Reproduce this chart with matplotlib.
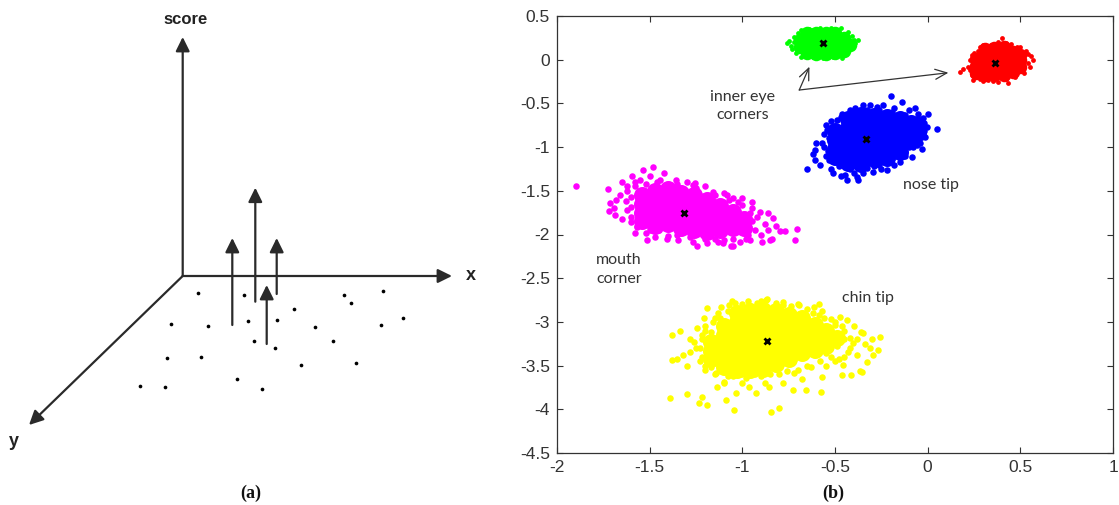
import numpy as np
import matplotlib
matplotlib.use("Agg")
import matplotlib.pyplot as plt

plt.rcParams['axes.unicode_minus'] = False

# ---------------- panel (a): schematic, in sketch units (y grows downward) ----------------
sketch_origin = (182.7, 276.0)
sketch_score_tip = (182.7, 37.0)
sketch_x_tip = (452.0, 276.0)
sketch_y_tip = (29.0, 425.0)

sketch_dot_x = [198.3, 244.3, 344.0, 351.0, 383.3, 293.7, 170.7, 208.0, 248.3, 277.3,
                315.3, 381.0, 403.3, 253.7, 332.7, 275.0, 166.7, 201.3, 301.0, 356.3,
                140.0, 164.7, 237.3, 262.0]
sketch_dot_y = [292.7, 295.3, 295.3, 302.7, 291.3, 309.0, 323.7, 326.3, 321.3, 320.3,
                327.3, 325.3, 318.0, 340.7, 340.7, 348.0, 358.3, 357.3, 365.3, 363.3,
                386.0, 387.0, 378.7, 389.0]

# score arrows: base on the plane and tip height
score_base_x = [232.3, 255.3, 276.7, 266.7]
score_base_y = [325.0, 301.7, 294.0, 344.0]
score_tip_y = [238.0, 187.7, 238.0, 285.0]

# ---------------- panel (b): landmark score clusters ----------------
center_x = [-0.563, 0.364, -0.334, -1.313, -0.868]
center_y = [0.195, -0.040, -0.905, -1.750, -3.215]

green_core = [(-0.69, 0.14), (-0.69, 0.22),
              (-0.65, 0.08), (-0.65, 0.16), (-0.65, 0.24), (-0.65, 0.30),
              (-0.60, 0.07), (-0.60, 0.15), (-0.60, 0.23), (-0.60, 0.30),
              (-0.55, 0.07), (-0.55, 0.15), (-0.55, 0.23), (-0.55, 0.30),
              (-0.50, 0.08), (-0.50, 0.16), (-0.50, 0.24), (-0.50, 0.30),
              (-0.45, 0.10), (-0.45, 0.18), (-0.45, 0.25), (-0.42, 0.17)]
green_pts = [(-0.761, 0.188), (-0.74, 0.16), (-0.75, 0.21), (-0.72, 0.26), (-0.70, 0.30),
             (-0.686, 0.34), (-0.64, 0.35), (-0.58, 0.36), (-0.52, 0.36), (-0.47, 0.36),
             (-0.43, 0.32), (-0.41, 0.27), (-0.40, 0.22), (-0.375, 0.225), (-0.39, 0.19),
             (-0.42, 0.12), (-0.44, 0.07), (-0.464, 0.016), (-0.51, 0.03), (-0.565, 0.016),
             (-0.62, 0.03), (-0.686, 0.034), (-0.71, 0.08), (-0.73, 0.12), (-0.72, 0.20),
             (-0.68, 0.31), (-0.62, 0.34), (-0.55, 0.35), (-0.49, 0.34), (-0.44, 0.29),
             (-0.41, 0.14), (-0.47, 0.05), (-0.54, 0.04), (-0.60, 0.05), (-0.67, 0.06)]

red_core = [(0.26, -0.15), (0.26, -0.07), (0.26, 0.01),
            (0.31, -0.18), (0.31, -0.10), (0.31, -0.02), (0.31, 0.06), (0.31, 0.12),
            (0.36, -0.18), (0.36, -0.10), (0.36, -0.02), (0.36, 0.06), (0.36, 0.13),
            (0.41, -0.17), (0.41, -0.09), (0.41, -0.01), (0.41, 0.07), (0.41, 0.14),
            (0.46, -0.14), (0.46, -0.06), (0.46, 0.02), (0.46, 0.09),
            (0.50, -0.08), (0.50, 0.00), (0.50, 0.05)]
red_pts = [(0.175, -0.137), (0.19, -0.11), (0.229, -0.003), (0.22, -0.08), (0.24, -0.17),
           (0.247, -0.232), (0.30, -0.24), (0.328, -0.232), (0.38, -0.25), (0.435, -0.263),
           (0.47, -0.20), (0.52, -0.15), (0.553, -0.08), (0.571, -0.003), (0.56, 0.04),
           (0.53, 0.10), (0.50, 0.15), (0.45, 0.18), (0.40, 0.244), (0.38, 0.20),
           (0.30, 0.168), (0.27, 0.10), (0.24, 0.05), (0.23, -0.12), (0.28, -0.22),
           (0.35, -0.24), (0.42, -0.22), (0.50, -0.13), (0.54, -0.04), (0.54, 0.06),
           (0.48, 0.14), (0.42, 0.19), (0.34, 0.17), (0.28, 0.14), (0.25, 0.08)]

blue_core = [(-0.50, -0.82), (-0.50, -0.92), (-0.50, -1.02), (-0.50, -1.11),
             (-0.43, -0.68), (-0.43, -0.78), (-0.43, -0.88), (-0.43, -0.98), (-0.43, -1.08), (-0.43, -1.18),
             (-0.36, -0.63), (-0.36, -0.73), (-0.36, -0.83), (-0.36, -0.93), (-0.36, -1.03), (-0.36, -1.13), (-0.36, -1.19),
             (-0.29, -0.64), (-0.29, -0.74), (-0.29, -0.84), (-0.29, -0.94), (-0.29, -1.04), (-0.29, -1.14),
             (-0.22, -0.66), (-0.22, -0.76), (-0.22, -0.86), (-0.22, -0.96), (-0.22, -1.06), (-0.22, -1.12),
             (-0.15, -0.68), (-0.15, -0.78), (-0.15, -0.88), (-0.15, -0.98), (-0.15, -1.06),
             (-0.09, -0.72), (-0.09, -0.82), (-0.09, -0.92),
             (-0.05, -0.76), (-0.05, -0.84)]
blue_pts = [(-0.652, -1.256), (0.049, -0.79), (-0.20, -0.41), (-0.347, -0.518), (-0.275, -0.537),
            (-0.14, -0.48), (-0.023, -0.67), (-0.005, -0.766), (-0.012, -0.881), (-0.059, -0.976),
            (-0.086, -1.11), (-0.149, -1.167), (-0.221, -1.262), (-0.293, -1.281), (-0.374, -1.376),
            (-0.437, -1.376), (-0.446, -1.319), (-0.509, -1.30), (-0.608, -1.148), (-0.608, -1.033),
            (-0.572, -0.957), (-0.545, -0.804), (-0.491, -0.69), (-0.419, -0.576), (-0.58, -1.20),
            (-0.55, -1.10), (-0.56, -1.00), (-0.52, -1.25), (-0.47, -1.33), (-0.40, -1.30),
            (-0.35, -1.30), (-0.25, -1.25), (-0.18, -1.20), (-0.12, -1.10), (-0.08, -1.00),
            (-0.04, -0.95), (-0.02, -0.72), (-0.05, -0.62), (-0.10, -0.58), (-0.18, -0.55),
            (-0.24, -0.52), (-0.31, -0.52), (-0.39, -0.55), (-0.46, -0.62), (-0.52, -0.70),
            (-0.56, -0.85), (-0.03, -1.02), (-0.55, -0.75), (-0.53, -0.90), (-0.54, -1.05),
            (-0.53, -1.15), (-0.48, -1.22), (-0.42, -1.25), (-0.33, -1.24), (-0.26, -1.20),
            (-0.20, -1.16), (-0.13, -1.08), (-0.10, -1.00), (-0.05, -0.92), (-0.02, -0.82),
            (-0.05, -0.68), (-0.12, -0.63), (-0.19, -0.60), (-0.26, -0.58), (-0.33, -0.57),
            (-0.40, -0.60), (-0.47, -0.66), (-0.60, -0.95), (-0.62, -1.08), (-0.38, -1.34),
            (-0.29, -1.22), (-0.07, -0.55), (0.00, -0.62)]

magenta_core = [(-1.54, -1.55), (-1.54, -1.65), (-1.54, -1.75), (-1.54, -1.85),
                (-1.47, -1.50), (-1.47, -1.60), (-1.47, -1.70), (-1.47, -1.80), (-1.47, -1.90),
                (-1.40, -1.48), (-1.40, -1.58), (-1.40, -1.68), (-1.40, -1.78), (-1.40, -1.88),
                (-1.33, -1.52), (-1.33, -1.62), (-1.33, -1.72), (-1.33, -1.82), (-1.33, -1.92),
                (-1.26, -1.55), (-1.26, -1.65), (-1.26, -1.75), (-1.26, -1.85), (-1.26, -1.95),
                (-1.19, -1.60), (-1.19, -1.70), (-1.19, -1.80), (-1.19, -1.90), (-1.19, -1.97),
                (-1.12, -1.67), (-1.12, -1.77), (-1.12, -1.87), (-1.12, -1.95),
                (-1.05, -1.74), (-1.05, -1.84), (-1.05, -1.92),
                (-0.99, -1.82), (-0.99, -1.92)]
magenta_pts = [(-1.897, -1.445), (-1.723, -1.483), (-1.714, -1.643), (-1.687, -1.777), (-1.579, -1.986),
               (-1.516, -2.063), (-1.471, -2.032), (-1.57, -1.91), (-1.48, -1.231), (-1.534, -1.262),
               (-1.597, -1.33), (-1.651, -1.396), (-1.444, -1.376), (-1.39, -1.434), (-1.264, -1.434),
               (-1.156, -1.51), (-1.049, -1.586), (-0.949, -1.625), (-0.904, -1.739), (-0.86, -1.757),
               (-0.833, -1.815), (-0.796, -1.956), (-0.769, -1.956), (-0.703, -1.937), (-0.715, -2.063),
               (-0.85, -2.063), (-0.895, -2.082), (-1.049, -2.132), (-1.103, -2.094), (-1.192, -2.094),
               (-1.264, -2.082), (-1.345, -2.063), (-1.408, -2.055), (-1.255, -1.414), (-1.084, -1.548),
               (-1.022, -1.625), (-0.838, -2.055), (-0.96, -2.063), (-1.014, -2.082), (-1.06, -2.132),
               (-1.246, -2.132), (-1.13, -2.082), (-1.66, -1.55), (-1.63, -1.62), (-1.69, -1.70),
               (-1.62, -1.72), (-1.65, -1.82), (-1.60, -1.86), (-1.62, -1.50), (-1.58, -1.45),
               (-1.55, -1.38), (-1.50, -1.33), (-1.42, -1.30), (-1.36, -1.38), (-1.30, -1.40),
               (-1.20, -1.45), (-1.10, -1.52), (-1.00, -1.58), (-0.95, -1.70), (-0.92, -1.80),
               (-0.88, -1.88), (-0.93, -1.95), (-0.86, -1.95), (-0.90, -2.00), (-0.82, -1.90),
               (-0.98, -2.05), (-1.05, -2.05), (-1.15, -2.05), (-1.35, -2.00), (-1.52, -1.98),
               (-1.45, -1.95), (-1.58, -1.40), (-1.52, -1.42), (-1.46, -1.40), (-1.35, -1.42),
               (-1.25, -1.47), (-1.15, -1.55), (-1.07, -1.60), (-1.00, -1.66), (-0.96, -1.75),
               (-0.95, -1.85), (-0.97, -2.00), (-1.10, -2.06), (-1.20, -2.05), (-1.28, -2.03),
               (-1.40, -2.02), (-1.50, -1.95), (-1.57, -1.90), (-1.60, -1.80), (-1.60, -1.68),
               (-1.60, -1.57), (-1.62, -1.45), (-1.68, -1.60), (-1.72, -1.73), (-1.05, -1.68)]

yellow_core = [(-1.17, -3.23), (-1.17, -3.33), (-1.17, -3.43),
               (-1.10, -3.05), (-1.10, -3.15), (-1.10, -3.25), (-1.10, -3.35), (-1.10, -3.45), (-1.10, -3.52),
               (-1.03, -2.90), (-1.03, -3.00), (-1.03, -3.10), (-1.03, -3.20), (-1.03, -3.30), (-1.03, -3.40), (-1.03, -3.50), (-1.03, -3.55),
               (-0.96, -2.87), (-0.96, -2.97), (-0.96, -3.07), (-0.96, -3.17), (-0.96, -3.27), (-0.96, -3.37), (-0.96, -3.47), (-0.96, -3.55),
               (-0.89, -2.86), (-0.89, -2.96), (-0.89, -3.06), (-0.89, -3.16), (-0.89, -3.26), (-0.89, -3.36), (-0.89, -3.46), (-0.89, -3.54),
               (-0.82, -2.88), (-0.82, -2.98), (-0.82, -3.08), (-0.82, -3.18), (-0.82, -3.28), (-0.82, -3.38), (-0.82, -3.48),
               (-0.75, -2.92), (-0.75, -3.02), (-0.75, -3.12), (-0.75, -3.22), (-0.75, -3.32), (-0.75, -3.42),
               (-0.68, -2.96), (-0.68, -3.06), (-0.68, -3.16), (-0.68, -3.26), (-0.68, -3.36),
               (-0.61, -3.04), (-0.61, -3.14), (-0.61, -3.24), (-0.61, -3.32),
               (-0.55, -3.10), (-0.55, -3.20), (-0.55, -3.28),
               (-0.49, -3.18)]
yellow_pts = [(-1.381, -3.15), (-1.336, -3.10), (-1.354, -3.428), (-1.318, -3.379), (-1.282, -3.341),
              (-1.39, -3.874), (-1.296, -3.825), (-1.215, -3.856), (-1.233, -3.931), (-1.188, -3.951),
              (-1.134, -3.741), (-1.098, -3.684), (-1.089, -3.894), (-1.044, -4.008), (-1.035, -3.817),
              (-0.963, -3.741), (-0.927, -3.817), (-0.855, -3.749), (-0.846, -4.027), (-0.801, -3.989),
              (-0.729, -3.779), (-0.658, -3.779), (-0.577, -3.798), (-0.568, -3.634), (-0.46, -3.608),
              (-0.415, -3.608), (-0.352, -3.57), (-0.257, -3.169), (-0.266, -3.322), (-0.293, -3.379),
              (-0.311, -3.302), (-0.347, -3.131), (-0.401, -3.245), (-0.437, -2.978), (-0.473, -2.94),
              (-0.50, -3.035), (-0.383, -3.379), (-0.329, -3.455), (-0.455, -3.493), (-1.117, -2.826),
              (-1.188, -2.845), (-1.071, -2.807), (-0.963, -2.807), (-0.873, -2.75), (-0.783, -2.807),
              (-0.693, -2.807), (-0.612, -2.826), (-0.585, -2.921), (-0.549, -3.055), (-1.206, -2.959),
              (-1.242, -3.074), (-1.26, -3.226), (-1.058, -2.763), (-0.866, -2.737), (-0.589, -2.80),
              (-1.377, -3.431), (-0.365, -3.565), (-1.15, -3.60), (-1.05, -3.62), (-0.98, -3.64),
              (-0.90, -3.62), (-0.80, -3.60), (-0.72, -3.58), (-0.63, -3.52), (-0.55, -3.50),
              (-0.50, -3.45), (-0.45, -3.40), (-0.42, -3.30), (-0.45, -3.20), (-0.38, -3.20),
              (-0.34, -3.25), (-0.30, -3.20), (-0.36, -3.12), (-0.40, -3.05), (-0.46, -3.05),
              (-0.52, -2.97), (-0.57, -2.88), (-0.65, -2.85), (-0.74, -2.82), (-0.82, -2.78),
              (-0.92, -2.78), (-1.00, -2.80), (-1.08, -2.88), (-1.15, -2.95), (-1.20, -3.05),
              (-1.22, -3.15), (-1.25, -3.30), (-1.23, -3.45), (-1.20, -3.55), (-1.28, -3.20),
              (-1.30, -3.50), (-1.10, -3.70), (-1.00, -3.70), (-0.88, -3.70), (-0.78, -3.70),
              (-0.68, -3.65), (-1.13, -2.90), (-1.04, -2.78), (-0.97, -2.76), (-0.90, -2.76),
              (-0.78, -2.77), (-0.70, -2.80), (-0.62, -2.90), (-0.56, -2.95), (-0.50, -3.00),
              (-0.45, -3.10), (-0.42, -3.18), (-0.43, -3.35), (-0.48, -3.42), (-0.52, -3.40),
              (-0.58, -3.45), (-0.65, -3.50), (-0.70, -3.55), (-0.76, -3.56), (-0.85, -3.60),
              (-0.93, -3.60), (-1.00, -3.60), (-1.08, -3.62), (-1.14, -3.58), (-1.20, -3.50),
              (-1.22, -3.40), (-1.23, -3.30), (-1.22, -3.20), (-1.20, -3.10), (-1.16, -3.00),
              (-1.12, -2.95), (-1.17, -3.12), (-1.17, -3.52), (-0.49, -3.28), (-0.55, -3.36)]

label_text = ['inner eye\ncorners', 'nose tip', 'mouth\ncorner', 'chin tip']
label_x = [-1.00, 0.018, -1.79, -0.322]
label_y = [-0.53, -1.434, -2.40, -2.727]
label_ha = ['center', 'center', 'left', 'center']

eye_arrow_start = (-0.693, -0.347)
eye_arrow_ends = [(-0.638, -0.08), (0.112, -0.149)]

xticks = [-2, -1.5, -1, -0.5, 0, 0.5, 1]
xtick_labels = ['-2', '-1.5', '-1', '-0.5', '0', '0.5', '1']
yticks = [0.5, 0, -0.5, -1, -1.5, -2, -2.5, -3, -3.5, -4, -4.5]
ytick_labels = ['0.5', '0', '-0.5', '-1', '-1.5', '-2', '-2.5', '-3', '-3.5', '-4', '-4.5']

# ---------------------------------------------------------------------------
W, H = 1119, 505
fig = plt.figure(figsize=(W / 100, H / 100), dpi=100)
fig.patch.set_facecolor('white')

# ---- panel (a)
axa = fig.add_axes([0, 0, 492 / W, 1])
axa.set_xlim(0, 492)
axa.set_ylim(H, 0)
axa.axis('off')

line_col = '#2a2a2a'
arrow_kw = dict(arrowstyle='-|>,head_length=0.85,head_width=0.42', lw=1.6,
                color=line_col, shrinkA=0, shrinkB=0, mutation_scale=10)
for tip in (sketch_score_tip, sketch_x_tip, sketch_y_tip):
    axa.annotate('', xy=tip, xytext=sketch_origin, arrowprops=arrow_kw)
for bx, by, ty in zip(score_base_x, score_base_y, score_tip_y):
    axa.annotate('', xy=(bx, ty), xytext=(bx, by), arrowprops=arrow_kw)
axa.scatter(sketch_dot_x, sketch_dot_y, s=7, color='black', zorder=3, linewidths=0)

sk_font = dict(family='Liberation Sans', fontweight='bold', color='#222222')
axa.text(185.5, 20, 'score', fontsize=12, ha='center', va='center', **sk_font)
axa.text(470.7, 276, 'x', fontsize=13, ha='center', va='center', **sk_font)
axa.text(14, 442, 'y', fontsize=13, ha='center', va='center', **sk_font)

# ---- panel (b)
axb = fig.add_axes([557 / W, 1 - 453 / H, 556 / W, 437 / H])
axb.set_xlim(-2, 1)
axb.set_ylim(-4.5, 0.5)

clusters = [
    ('#00FF00', green_core, green_pts, 95, 12),
    ('#FF0000', red_core, red_pts, 95, 12),
    ('#0000FF', blue_core, blue_pts, 150, 22),
    ('#FF00FF', magenta_core, magenta_pts, 150, 22),
    ('#FFFF00', yellow_core, yellow_pts, 150, 22),
]
for col, core, pts, s_core, s_pt in clusters:
    cx, cy = np.array(core).T
    px, py = np.array(pts).T
    axb.scatter(cx, cy, s=s_core, color=col, linewidths=0, zorder=2)
    axb.scatter(px, py, s=s_pt, color=col, linewidths=0, zorder=2)

axb.plot(center_x, center_y, linestyle='none', marker='x', color='black',
         markersize=4.5, markeredgewidth=2, zorder=4)

txt_col = '#333333'
for t, x, y, ha in zip(label_text, label_x, label_y, label_ha):
    axb.text(x, y, t, ha=ha, va='center', fontsize=11.5, family='Lato',
             color=txt_col, linespacing=1.45, zorder=5)
for end in eye_arrow_ends:
    axb.annotate('', xy=end, xytext=eye_arrow_start,
                 arrowprops=dict(arrowstyle='->,head_length=0.7,head_width=0.3', lw=0.9,
                                 color=txt_col, shrinkA=0, shrinkB=0, mutation_scale=12))

axb.set_xticks(xticks)
axb.set_xticklabels(xtick_labels)
axb.set_yticks(yticks)
axb.set_yticklabels(ytick_labels)
axb.tick_params(direction='in', length=4, width=0.8, top=True, right=True,
                labelsize=12.5, colors='#333333', pad=5)
for lab in axb.get_xticklabels() + axb.get_yticklabels():
    lab.set_family('Liberation Sans')
for sp in axb.spines.values():
    sp.set_color('#333333')
    sp.set_linewidth(0.9)

cap_font = dict(family='Liberation Serif', fontweight='bold', fontsize=13,
                ha='center', va='center', color='#111111')
fig.text(250.7 / W, 1 - 493 / H, '(a)', **cap_font)
fig.text(833 / W, 1 - 493 / H, '(b)', **cap_font)

fig.savefig('out.png', dpi=100, facecolor='white')
